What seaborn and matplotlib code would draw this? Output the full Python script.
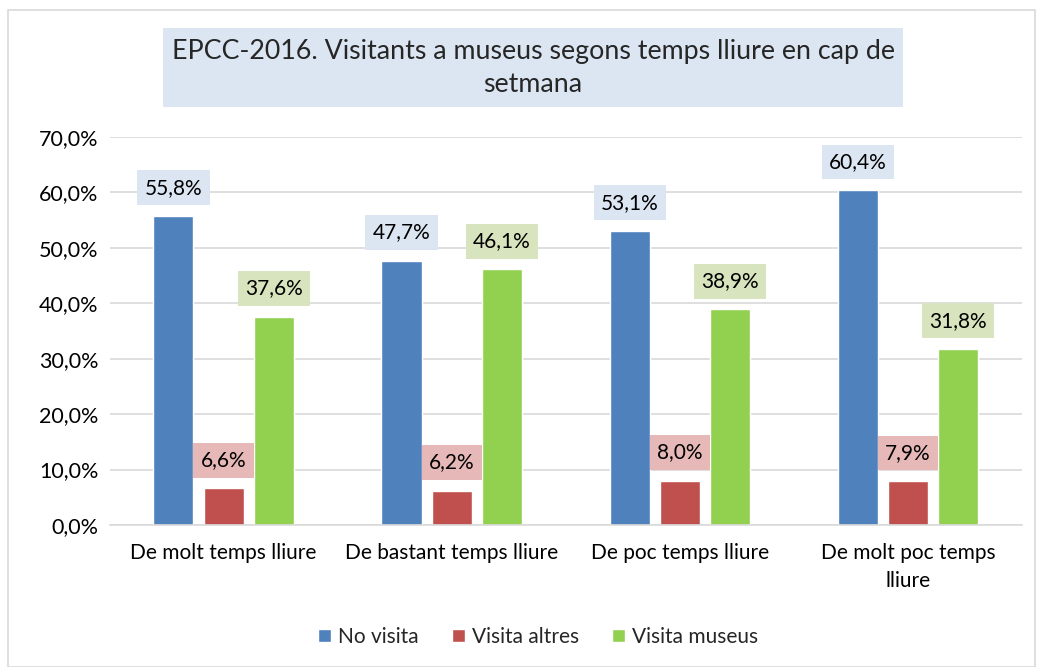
import matplotlib
matplotlib.use("Agg")
import matplotlib.pyplot as plt
import seaborn as sns
import pandas as pd
from matplotlib.patches import Rectangle
from matplotlib.ticker import FuncFormatter

categories = ["De molt temps lliure", "De bastant temps lliure", "De poc temps lliure", "De molt poc temps\nlliure"]
series = ["No visita", "Visita altres", "Visita museus"]
no_visita = [55.8, 47.7, 53.1, 60.4]
visita_altres = [6.6, 6.2, 8.0, 7.9]
visita_museus = [37.6, 46.1, 38.9, 31.8]
colors = ["#4F81BD", "#C0504D", "#92D050"]
box_colors = ["#DCE6F2", "#E6B9B8", "#D7E4BD"]

rows = []
for s, vals in zip(series, [no_visita, visita_altres, visita_museus]):
    for c, v in zip(categories, vals):
        rows.append({"cat": c, "serie": s, "val": v / 100})
df = pd.DataFrame(rows)

sns.set_theme(style="white")
plt.rcParams["font.family"] = ["Lato", "DejaVu Sans"]

fig = plt.figure(figsize=(10.43, 6.67), dpi=100)
ax = fig.add_axes([0.105, 0.213, 0.875, 0.5816])

sns.barplot(data=df, x="cat", y="val", hue="serie", palette=colors, width=0.66, gap=0.2,
            ax=ax, legend=True, saturation=1)

ax.set_ylim(0, 0.7)
ax.set_yticks([i / 10 for i in range(8)])
ax.yaxis.set_major_formatter(FuncFormatter(lambda v, p: f"{v*100:.1f}%".replace(".", ",")))
ax.grid(axis="y", color="#D9D9D9", linewidth=1.2)
ax.set_axisbelow(True)
for sp in ["top", "right", "left"]:
    ax.spines[sp].set_visible(False)
ax.spines["bottom"].set_color("#D9D9D9")
ax.spines["bottom"].set_linewidth(1.2)
ax.tick_params(axis="y", length=0, labelsize=15.5, colors="black", pad=8)
ax.tick_params(axis="x", length=0, labelsize=15, colors="black", pad=13)
for t in ax.get_xticklabels():
    t.set_linespacing(1.5)
ax.set_xlabel("")
ax.set_ylabel("")
ax.set_xlim(-0.5, 3.5)

for cont, bc in zip(ax.containers, box_colors):
    ax.bar_label(cont, labels=[f"{b.get_height()*100:.1f}%".replace(".", ",") for b in cont],
                 padding=13, fontsize=15, color="black",
                 bbox=dict(boxstyle="square,pad=0.35", facecolor=bc, edgecolor="none"))

leg = ax.legend(loc="upper center", bbox_to_anchor=(0.47, -0.215), ncol=3, frameon=False,
                fontsize=15, handlelength=0.6, handleheight=0.6, handletextpad=0.35, columnspacing=1.6)

# title box
fig.patches.append(Rectangle((163 / 1043, 1 - 107 / 667), 740 / 1043, 79 / 667,
                             transform=fig.transFigure, facecolor="#DCE6F2", edgecolor="none", zorder=0))
fig.text(533 / 1043, 1 - 68 / 667, "EPCC-2016. Visitants a museus segons temps lliure en cap de\nsetmana",
         ha="center", va="center", fontsize=19.3, linespacing=1.45)

# outer border
fig.patches.append(Rectangle((8 / 1043, 0.0), 1027 / 1043, 1 - 10 / 667, transform=fig.transFigure,
                             facecolor="none", edgecolor="#D9D9D9", linewidth=1.2, zorder=0))

fig.savefig("out.png", dpi=100)
